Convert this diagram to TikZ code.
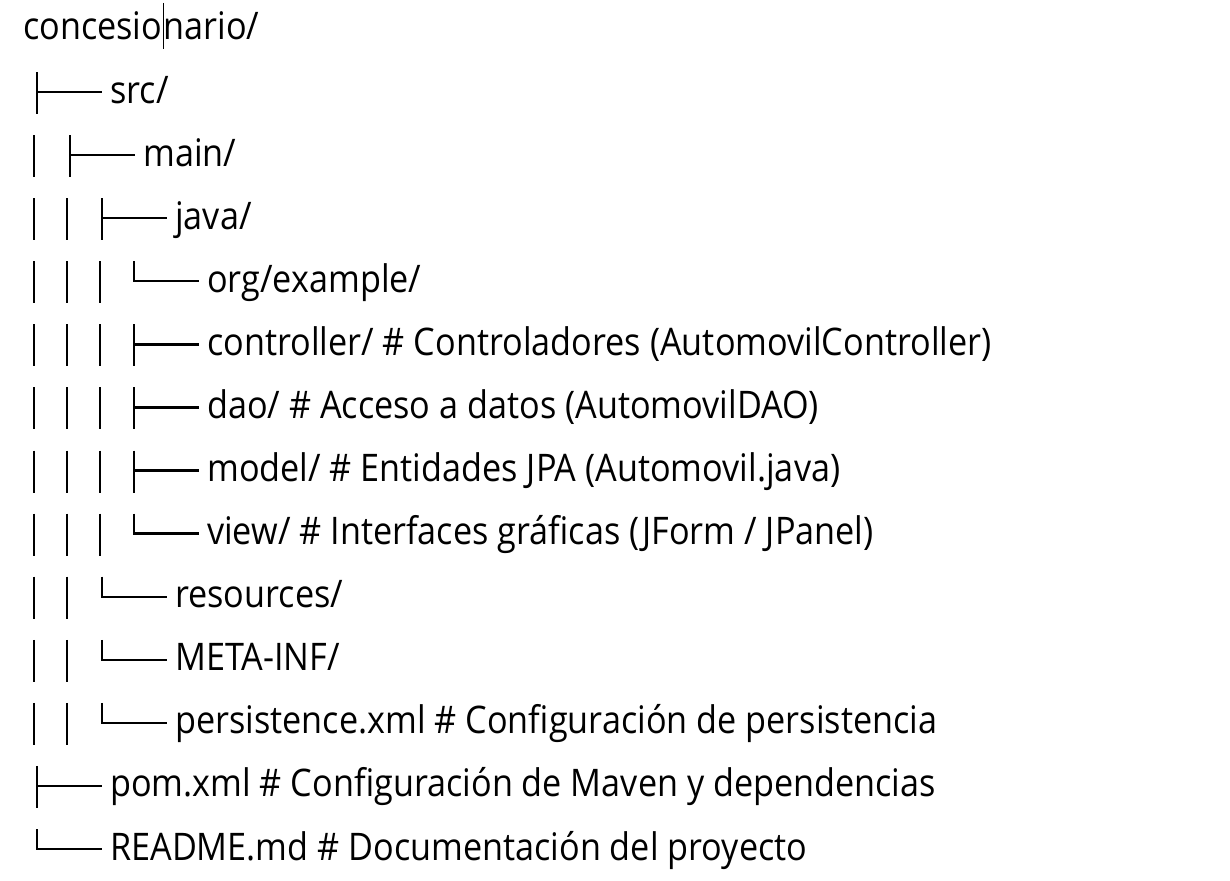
\documentclass[tikz,border=0pt]{standalone}
\usepackage{fontspec}
\setmainfont{Open Sans}
\newfontfamily\treefont[FakeStretch=0.9]{Open Sans}
\newcommand\bl[1]{40+63.08*#1}
\tikzset{
  treeline/.style={line width=2.3pt, draw=black, line cap=butt, line join=miter},
  lbl/.style={anchor=base west, inner sep=0pt, font=\treefont\fontsize{38}{40}\selectfont, text=black},
  caret/.style={line width=1.6pt, draw=black},
}
\newcommand\trBar[2]{\draw[treeline] (#1,{\bl{#2}-31}) -- (#1,{\bl{#2}+11});}
\newcommand\trTee[2]{\draw[treeline] (#1,{\bl{#2}-31}) -- (#1,{\bl{#2}+11}); \draw[treeline] (#1,{\bl{#2}-11}) -- ({#1+65},{\bl{#2}-11});}
\newcommand\trEnd[2]{\draw[treeline] (#1,{\bl{#2}-31}) -- (#1,{\bl{#2}-11}) -- ({#1+65},{\bl{#2}-11});}
\newcommand\trText[4]{\node[lbl] (#1) at ({#2+73},{\bl{#3}}) {#4};}
\begin{document}
\begin{tikzpicture}[x=1pt,y=-1pt]
\useasboundingbox[fill=white] (0,0) rectangle (1230,880);
\node[lbl] (rootA) at (23,{\bl{0}}) {concesio};
\node[lbl] (rootB) at ([xshift=1pt]rootA.base east) {nario/};
\coordinate (caretTop) at ([xshift=1pt,yshift=37pt]rootA.base east);
\coordinate (caretBot) at ([xshift=1pt,yshift=-9pt]rootA.base east);
\draw[caret] (caretTop) -- (caretBot);
% row 1
\trTee{37}{1} \trText{src}{37}{1}{src/}
% row 2
\trBar{34}{2} \trTee{70}{2} \trText{main}{70}{2}{main/}
% row 3
\trBar{34}{3} \trBar{67}{3} \trTee{102}{3} \trText{java}{102}{3}{java/}
% row 4
\trBar{34}{4} \trBar{67}{4} \trBar{100}{4} \trEnd{134}{4} \trText{org}{134}{4}{org/example/}
% rows 5-8
\trBar{34}{5} \trBar{67}{5} \trBar{100}{5} \trTee{134}{5} \trText{ctrl}{134}{5}{controller/ \# Controladores (AutomovilController)}
\trBar{34}{6} \trBar{67}{6} \trBar{100}{6} \trTee{134}{6} \trText{dao}{134}{6}{dao/ \# Acceso a datos (AutomovilDAO)}
\trBar{34}{7} \trBar{67}{7} \trBar{100}{7} \trTee{134}{7} \trText{model}{134}{7}{model/ \# Entidades JPA (Automovil.java)}
\trBar{34}{8} \trBar{67}{8} \trBar{100}{8} \trEnd{134}{8} \trText{view}{134}{8}{view/ \# Interfaces gráficas (JForm / JPanel)}
% rows 9-11
\trBar{34}{9} \trBar{67}{9} \trEnd{102}{9} \trText{res}{102}{9}{resources/}
\trBar{34}{10} \trBar{67}{10} \trEnd{102}{10} \trText{meta}{102}{10}{META-INF/}
\trBar{34}{11} \trBar{67}{11} \trEnd{102}{11} \trText{pers}{102}{11}{persistence.xml \# Configuración de persistencia}
% rows 12-13
\trTee{37}{12} \trText{pom}{37}{12}{pom.xml \# Configuración de Maven y dependencias}
\trEnd{37}{13} \trText{readme}{37}{13}{README.md \# Documentación del proyecto}
\end{tikzpicture}
\end{document}
